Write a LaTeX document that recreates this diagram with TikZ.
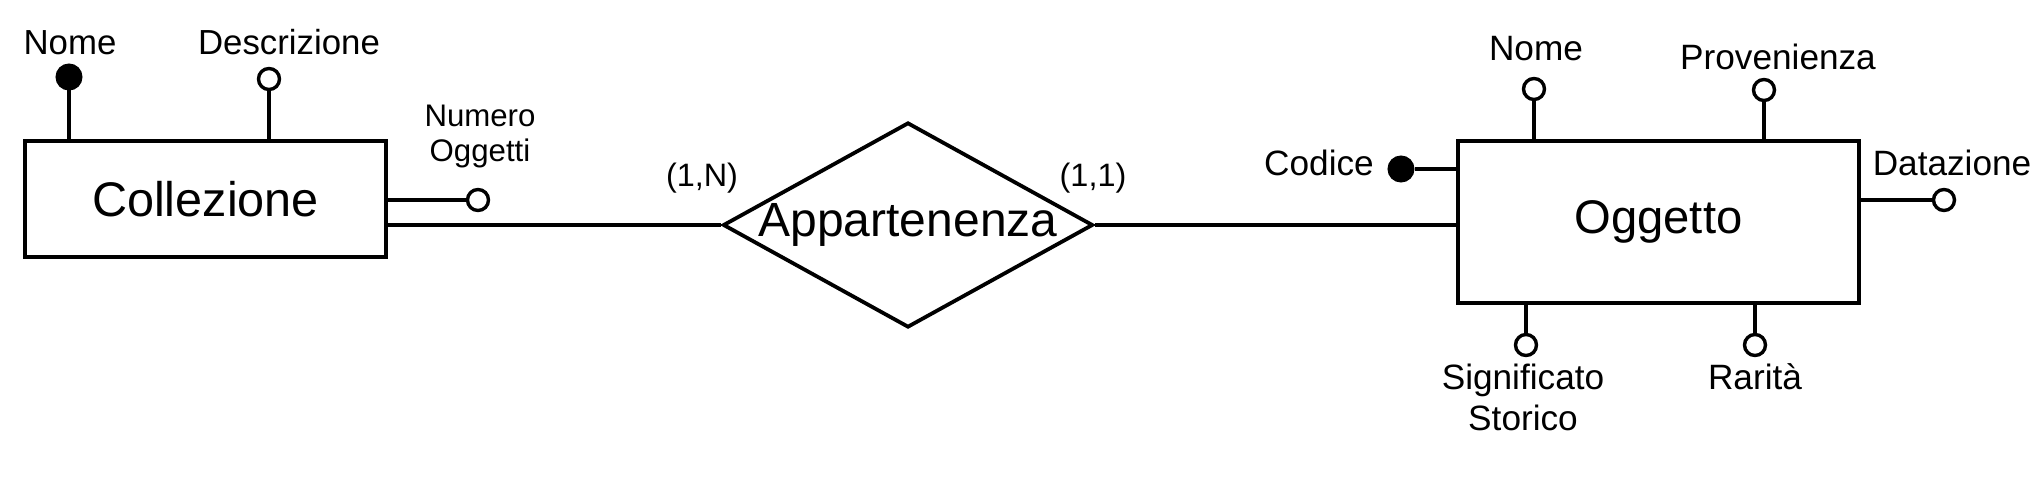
\documentclass[tikz,border=0pt]{standalone}
\usepackage{fontspec}
\setmainfont{Liberation Sans}
\usetikzlibrary{shapes.geometric}
\begin{document}
\begin{tikzpicture}[x=0.5pt,y=-0.5pt,
  entity/.style={draw, line width=1.9pt, rectangle, inner sep=0pt},
  relation/.style={draw, diamond, line width=1.9pt, inner sep=0pt, minimum width=185pt, minimum height=102.5pt, font=\fontsize{24}{28}\selectfont},
  attr/.style={circle, draw, fill=white, line width=1.7pt, minimum size=10.5pt, inner sep=0pt},
  keyattr/.style={attr, fill=black, minimum size=11.8pt},
  link/.style={line width=1.7pt},
  lblL/.style={inner sep=0pt, font=\fontsize{17.4}{20.5}\selectfont, align=center},
  lblR/.style={inner sep=0pt, font=\fontsize{17.6}{20.5}\selectfont, align=center},
  card/.style={inner sep=0pt, font=\fontsize{16.2}{19}\selectfont},
]
\useasboundingbox[fill=white] (0,0) rectangle (2036,492);
% entities and relationship
\node[entity, minimum width=180.5pt, minimum height=58pt, font=\fontsize{24.3}{28}\selectfont] (coll) at (205.5,199) {Collezione};
\node[entity, minimum width=200.5pt, minimum height=81pt, font=\fontsize{23.6}{28}\selectfont] (ogg) at (1658.5,222) {Oggetto};
\node[relation] (app) at (908,225) {\makebox[0pt]{Appartenenza}};
\draw[link] (app.west) -- (app.west -| coll.east);
\draw[link] (app.east) -- (app.east -| ogg.west);
\node[card] (cardN) at (702,178) {(1,N)};
\node[card] (card1) at (1093,178) {(1,1)};
% Collezione attributes
\node[keyattr] (cnome) at (69,77) {};
\node[lblL] (cnomel) at (70,43) {Nome};
\draw[link] (cnome) -- (cnome |- coll.north);
\node[attr] (cdesc) at (269,79) {};
\node[lblL] (cdescl) at (289,42) {Descrizione};
\draw[link] (cdesc) -- (cdesc |- coll.north);
\node[attr] (cnum) at (478,200) {};
\node[lblL, font=\fontsize{15.6}{17.5}\selectfont] (cnuml) at (480,137) {Numero\\Oggetti};
\draw[link] (cnum) -- (cnum -| coll.east);
% Oggetto attributes
\node[keyattr] (ocod) at (1401,169) {};
\node[lblR] (ocodl) at (1319,163) {Codice};
\draw[link] (ocod) -- (ocod -| ogg.west);
\node[attr] (onome) at (1534,89) {};
\node[lblR] (onomel) at (1536,49) {Nome};
\draw[link] (onome) -- (onome |- ogg.north);
\node[attr] (oprov) at (1764,90) {};
\node[lblR] (oprovl) at (1778,57) {Provenienza};
\draw[link] (oprov) -- (oprov |- ogg.north);
\node[attr] (odat) at (1944,200) {};
\node[lblR] (odatl) at (1952,163) {Datazione};
\draw[link] (odat) -- (odat -| ogg.east);
\node[attr] (osig) at (1526,345) {};
\node[lblR] (osigl) at (1523,397) {Significato\\Storico};
\draw[link] (osig) -- (osig |- ogg.south);
\node[attr] (orar) at (1755,345) {};
\node[lblR] (orarl) at (1755,377) {Rarità};
\draw[link] (orar) -- (orar |- ogg.south);
\end{tikzpicture}
\end{document}
